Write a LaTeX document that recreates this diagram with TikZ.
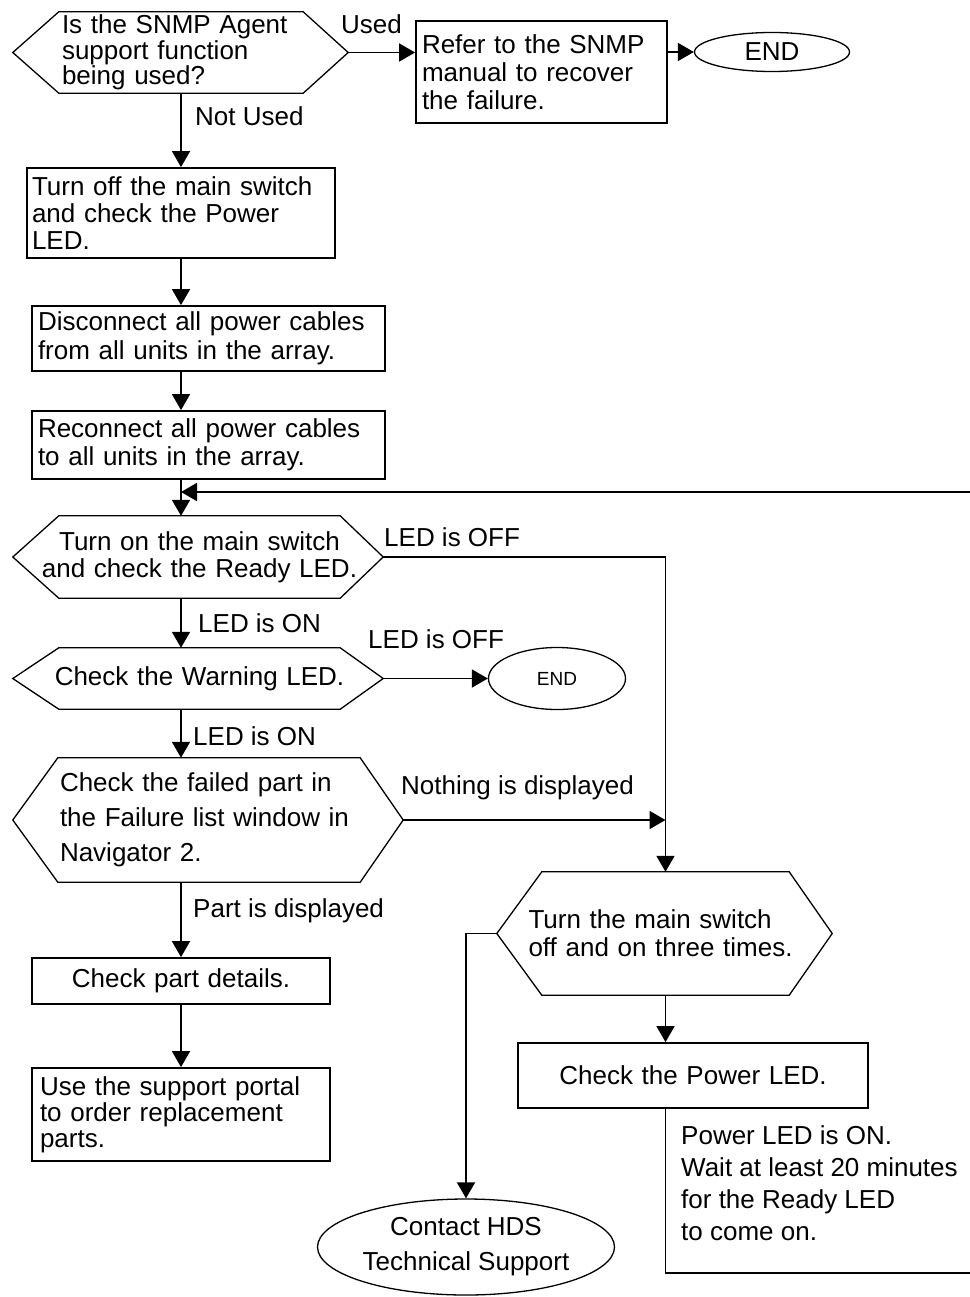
\documentclass[tikz,border=0pt]{standalone}
\usepackage{fontspec}
\setmainfont{Liberation Sans}
\usetikzlibrary{arrows.meta,shapes.geometric}

\begin{document}
\begin{tikzpicture}[x=1pt, y=-1pt, >={Triangle[length=16pt,width=18pt]},
    every node/.style={font=\fontsize{26}{28}\selectfont},
    box/.style={draw, line width=1.8pt, rectangle, inner ysep=0pt},
    hexa/.style={rectangle, inner ysep=0pt},
    oval/.style={draw, line width=1.3pt, ellipse, inner sep=0pt},
    lbl/.style={anchor=west, inner sep=0pt},
    line/.style={line width=1.8pt}]
    % Khung của hình
    \useasboundingbox (0,0) rectangle (969,1297);

    % 1. Câu hỏi SNMP và nhánh "Used"
    \node[hexa, minimum width=244pt, minimum height=81pt, text width=238pt, inner xsep=3pt,
        align=left, font=\fontsize{26}{23}\selectfont] (q1) at (181,52.5)
        {Is the SNMP Agent\\support function\\being used?};
    \node[box, minimum width=251pt, minimum height=102pt, text width=239pt, inner xsep=6pt,
        align=left] (refer) at (541.5,72) {Refer to the SNMP\\manual to recover\\the failure.};
    \node[oval, minimum width=155pt, minimum height=39pt] (end1) at (772,52) {END};

    % 2. Các bước cột bên trái
    \node[box, minimum width=308pt, minimum height=90pt, text width=298pt, inner xsep=5pt,
        align=left, font=\fontsize{26}{27}\selectfont] (off) at (181,213)
        {Turn off the main switch\\and check the Power\\LED.};
    \node[box, minimum width=353pt, minimum height=65pt, text width=341pt, inner xsep=6pt,
        align=left, font=\fontsize{26}{29}\selectfont] (disc) at (208.5,338.5)
        {Disconnect all power cables\\from all units in the array.};
    \node[box, minimum width=353pt, minimum height=68pt, text width=341pt, inner xsep=6pt,
        align=left, font=\fontsize{26}{28}\selectfont] (reconn) at (208.5,445)
        {Reconnect all power cables\\to all units in the array.};
    \node[hexa, minimum width=281pt, minimum height=82pt, text width=316pt, inner xsep=-17.5pt,
        align=center, font=\fontsize{26}{27}\selectfont] (q2) at (199.5,557)
        {Turn on the main switch\\and check the Ready LED.};
    \node[hexa, minimum width=281pt, minimum height=61pt, text width=292pt, inner xsep=-5.5pt,
        align=center] (q3) at (199.5,678.5) {Check the Warning LED.};
    \node[oval, minimum width=137pt, minimum height=62pt, font=\fontsize{19}{19}\selectfont]
        (end2) at (557,678.5) {END};
    \node[hexa, minimum width=302pt, minimum height=124pt, text width=298pt, inner xsep=2pt,
        align=left, font=\fontsize{26}{35}\selectfont] (q4) at (209,820)
        {Check the failed part in\\the Failure list window in\\Navigator 2.};
    \node[box, minimum width=298pt, minimum height=46pt, text width=286pt, inner xsep=6pt,
        align=center] (details) at (181,981) {Check part details.};
    \node[box, minimum width=298pt, minimum height=93pt, text width=282pt, inner xsep=8pt,
        align=left, font=\fontsize{26}{26}\selectfont] (portal) at (181,1114.5)
        {Use the support portal\\to order replacement\\parts.};

    % 3. Nhánh bên phải
    \node[hexa, minimum width=247pt, minimum height=123pt, text width=274pt, inner xsep=-13.5pt,
        align=left] (q5) at (665.5,933.5) {Turn the main switch\\off and on three times.};
    \node[box, minimum width=350pt, minimum height=65pt, text width=338pt, inner xsep=6pt,
        align=center] (power) at (693,1075.5) {Check the Power LED.};
    \node[oval, minimum width=297pt, minimum height=96pt, inner sep=-5pt, align=center,
        font=\fontsize{26}{35}\selectfont] (contact) at (466,1247)
        {Contact HDS\\Technical Support};

    % 4. Viền lục giác
    \foreach \n/\l/\r in {q1/46/45, q2/46/43, q3/46/43, q4/45/43, q5/45/43}
        \draw[line width=1.3pt] (\n.north west) -- (\n.north east) -- ([xshift=\r pt]\n.east)
            -- (\n.south east) -- (\n.south west) -- ([xshift=-\l pt]\n.west) -- cycle;
    \coordinate (q1r) at ([xshift=45pt]q1.east);
    \coordinate (q2r) at ([xshift=43pt]q2.east);
    \coordinate (q3r) at ([xshift=43pt]q3.east);
    \coordinate (q4r) at ([xshift=43pt]q4.east);
    \coordinate (q5l) at ([xshift=-45pt]q5.west);
    \coordinate (join) at (181,492);
    \coordinate (loop) at (972,1273);

    % 5. Nhãn trên các mũi tên
    \node[lbl] (lused) at (341,24) {Used};
    \node[lbl] (lnot) at (195,116) {Not Used};
    \node[lbl] (loff1) at (384,537) {LED is OFF};
    \node[lbl] (lon1) at (198,623) {LED is ON};
    \node[lbl] (loff2) at (368,639) {LED is OFF};
    \node[lbl] (lon2) at (193,736) {LED is ON};
    \node[lbl] (lnothing) at (401,788) {Nothing is displayed};
    \node[lbl] (lpart) at (193,911) {Part is displayed};
    \node[lbl, align=left, font=\fontsize{26}{32}\selectfont] (lwait) at (681,1183)
        {Power LED is ON.\\Wait at least 20 minutes\\for the Ready LED\\to come on.};

    % 6. Mũi tên
    \draw[line, ->] (q1r) -- (q1r -| refer.west);
    \draw[line, ->] (refer.east |- end1.west) -- (end1.west);
    \draw[line, ->] (q1.south) -- (off.north);
    \draw[line, ->] (off.south) -- (off.south |- disc.north);
    \draw[line, ->] (disc.south -| off.south) -- (reconn.north -| off.south);
    \draw[line, ->] (reconn.south -| off.south) -- (q2.north -| off.south);
    \draw[line, ->] (q2.south -| off.south) -- (q3.north -| off.south);
    \draw[line, ->] (q3.south -| off.south) -- (q4.north -| off.south);
    \draw[line, ->] (q4.south -| off.south) -- (details.north);
    \draw[line, ->] (details.south) -- (portal.north);
    \draw[line, ->] (q2r) -| (q5.north);
    \draw[line, ->] (q3r) -- (end2.west);
    \draw[line, ->] (q4r) -- (q4r -| q5.north);
    \draw[line, ->] (q5l) -| (contact.north);
    \draw[line, ->] (q5.south) -- (q5.south |- power.north);
    \draw[line, ->] (power.south -| q5.south) |- (loop) |- (join);
\end{tikzpicture}
\end{document}
